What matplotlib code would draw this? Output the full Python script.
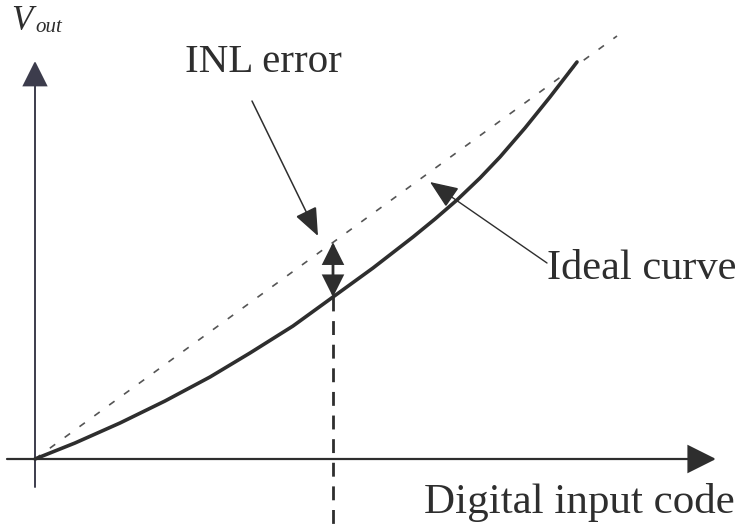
import matplotlib.pyplot as plt
from matplotlib.patches import FancyArrowPatch

# actual DAC transfer curve (code, output), read in plot units
code = [0, 40, 85, 130, 175, 215, 258, 298, 338, 378, 400, 422, 445, 465, 490, 515, 542]
vout = [0, 16, 36, 58, 82, 106, 133, 162, 191, 222, 240, 259, 281, 302, 331, 362, 397]

# ideal straight line end points
ideal_code = [0, 582]
ideal_vout = [0, 423]

# code where the INL error is marked
inl_code = 298
inl_actual = 162
inl_ideal = inl_code * ideal_vout[1] / ideal_code[1]

ink = '#2e2e2e'
serif = 'Liberation Serif'

fig = plt.figure(figsize=(7.4, 5.28), dpi=100)
ax = fig.add_axes([0, 0, 1, 1])
ax.set_xlim(-35, 705)
ax.set_ylim(-69, 459)
ax.axis('off')


def arrow(p0, p1, style, scale, lw, color=ink):
    a = FancyArrowPatch(p0, p1, arrowstyle=style, mutation_scale=scale,
                        lw=lw, color=color, shrinkA=0, shrinkB=0,
                        joinstyle='miter')
    ax.add_patch(a)


# axes with arrow heads
arrow((-28, 0), (681, 0), '-|>,head_length=1.0,head_width=0.5', 18, 1.6)
arrow((0, -28), (0, 398), '-|>,head_length=1.0,head_width=0.5', 16, 1.4, '#3c3c4c')

# ideal line and actual curve
ax.plot(ideal_code, ideal_vout, color='#555555', lw=1.2, dashes=(4, 7))
ax.plot(code, vout, color=ink, lw=2.6, solid_capstyle='round', solid_joinstyle='round')

# vertical dashed marker down from the curve
ax.plot([inl_code, inl_code], [inl_actual, -69], color=ink, lw=2.0, dashes=(5, 3.5))

# INL error double arrow
arrow((inl_code, inl_actual), (inl_code, inl_ideal),
      '<|-|>,head_length=1.0,head_width=0.5', 13, 2.0)

# pointer for INL error label
arrow((217, 358), (283, 223), '-|>,head_length=1.1,head_width=0.45', 16, 1.1)
ax.text(228, 397, 'INL error', family=serif, fontsize=29.5, color=ink,
        ha='center', va='center')

# pointer for ideal curve label
arrow((512, 196), (395, 277), '-|>,head_length=1.1,head_width=0.45', 16, 1.0)
ax.text(512, 190, 'Ideal curve', family=serif, fontsize=30.5, color=ink,
        ha='left', va='center')

ax.text(700, -43, 'Digital input code', family=serif, fontsize=31, color=ink,
        ha='right', va='center')

# V_out label
ax.text(-24, 438, 'V', family=serif, style='italic', fontsize=25, color=ink,
        ha='left', va='center')
ax.text(0, 432, 'out', family=serif, style='italic', fontsize=15, color=ink,
        ha='left', va='center')

fig.savefig('out.png', dpi=100)
